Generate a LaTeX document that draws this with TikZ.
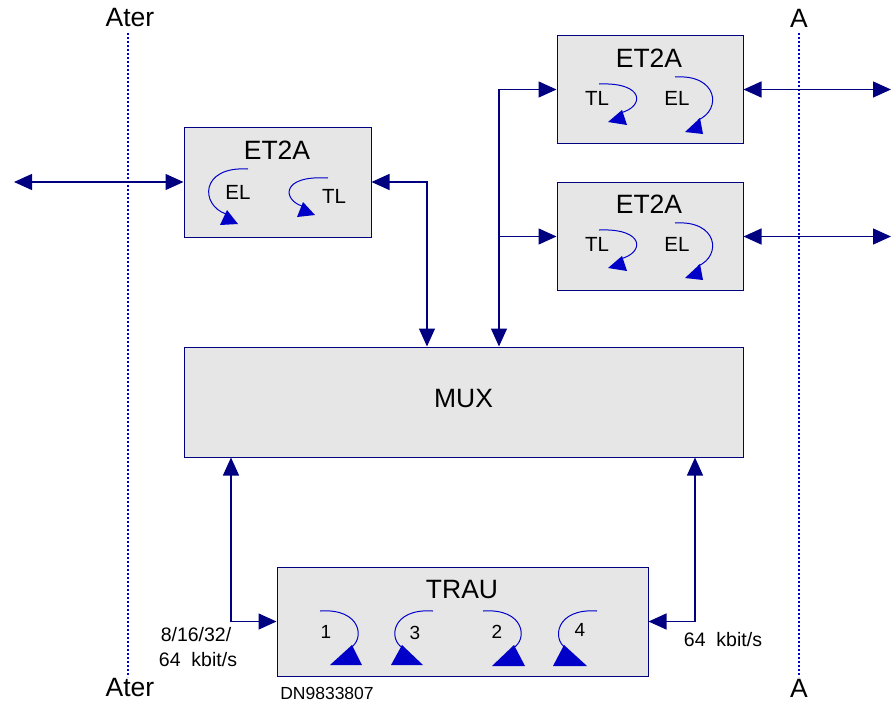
\documentclass[tikz,border=0pt]{standalone}
\usepackage{fontspec}
\setmainfont{Liberation Sans}
\usetikzlibrary{arrows.meta}
\definecolor{linkblue}{RGB}{0,0,128}
\definecolor{loopblue}{RGB}{0,0,200}
\definecolor{boxgray}{RGB}{230,230,230}
\begin{document}
\begin{tikzpicture}[x=1pt,y=-1pt,
  unitbox/.style={draw=linkblue, fill=boxgray, line width=1pt, inner sep=0pt},
  title/.style={font=\fontsize{26.5}{30}\selectfont, inner sep=0pt},
  small/.style={font=\fontsize{20.5}{24}\selectfont, inner sep=0pt},
  digit/.style={font=\fontsize{19}{22}\selectfont, inner sep=0pt},
  note/.style={font=\fontsize{19.5}{22}\selectfont, inner sep=0pt},
  refline/.style={draw=loopblue, line width=1.1pt, dash pattern=on 2pt off 2pt},
  link/.style={draw=linkblue, line width=1.3pt},
  oneway/.style={link, -{Triangle[length=18pt, width=16pt]}},
  twoway/.style={link, {Triangle[length=18pt, width=16pt]}-{Triangle[length=18pt, width=16pt]}},
  loop/.style={draw=loopblue, line width=1pt},
  loophead/.style={fill=loopblue, draw=none}
]
\useasboundingbox (0,0) rectangle (891,705);

% interface reference lines
\node[title] (aterTop) at (130,18) {Ater};
\node[title] (aterBot) at (130,688) {Ater};
\node[title] (aTop) at (799,18) {A};
\node[title] (aBot) at (799,688) {A};
\coordinate (aterLineTop) at (128,33);
\coordinate (aterLineBot) at (128,677);
\coordinate (aLineTop) at (799,33);
\coordinate (aLineBot) at (799,677);
\draw[refline] (aterLineTop) -- (aterLineBot);
\draw[refline] (aLineTop) -- (aLineBot);

% functional units
\node[unitbox, minimum width=187pt, minimum height=110pt] (etL) at (277.5,182) {};
\node[unitbox, minimum width=186pt, minimum height=108pt] (etTR) at (650,89.5) {};
\node[unitbox, minimum width=186pt, minimum height=108pt] (etBR) at (650,236.5) {};
\node[unitbox, minimum width=559pt, minimum height=110pt] (mux) at (463.5,402) {};
\node[unitbox, minimum width=371pt, minimum height=109pt] (trau) at (462.5,621.5) {};

\node[title] (etLname) at (277,150) {ET2A};
\node[title] (etTRname) at (649,58) {ET2A};
\node[title] (etBRname) at (649,204) {ET2A};
\node[title] (muxname) at (463.5,399) {MUX};
\node[title] (trauname) at (462,590) {TRAU};

% loops in the left ET2A
\node[small] (etLel) at (238,192) {EL};
\node[small] (etLtl) at (334,196) {TL};
\draw[loop] (248,169) .. controls (200,166) and (200,205) .. (226,214);
\fill[loophead] (227,210) -- (220,225) -- (238,224) -- cycle;
\draw[loop] (328,178) .. controls (280,175) and (283,200) .. (302,206);
\fill[loophead] (303,202) -- (297,217) -- (315,215) -- cycle;

% loops in the upper right ET2A
\node[small] (etTRtl) at (597,98) {TL};
\node[small] (etTRel) at (677,98) {EL};
\draw[loop] (599,84) .. controls (645,82) and (645,107) .. (620,113);
\fill[loophead] (622,110) -- (608,122) -- (627,125) -- cycle;
\draw[loop] (675,77) .. controls (718,74) and (722,110) .. (698,120);
\fill[loophead] (700,118) -- (685,132) -- (703,134) -- cycle;

% loops in the lower right ET2A
\node[small] (etBRtl) at (597,244) {TL};
\node[small] (etBRel) at (677,244) {EL};
\draw[loop] (599,230) .. controls (645,228) and (645,253) .. (620,259);
\fill[loophead] (622,256) -- (608,268) -- (627,271) -- cycle;
\draw[loop] (675,223) .. controls (718,220) and (722,256) .. (698,266);
\fill[loophead] (700,264) -- (685,278) -- (703,280) -- cycle;

% loops in the TRAU
\node[digit] (tr1) at (326,632) {1};
\node[digit] (tr3) at (415,633) {3};
\node[digit] (tr2) at (497,632) {2};
\node[digit] (tr4) at (580,630) {4};
\draw[loop] (320,611) .. controls (362,608) and (365,640) .. (350,648);
\fill[loophead] (352,645) -- (330,665) -- (362,665) -- cycle;
\draw[loop] (433,611) .. controls (391,608) and (388,640) .. (403,648);
\fill[loophead] (402,645) -- (391,665) -- (423,665) -- cycle;
\draw[loop] (483,611) .. controls (525,608) and (528,640) .. (513,648);
\fill[loophead] (514,645) -- (492,666) -- (525,666) -- cycle;
\draw[loop] (597,611) .. controls (555,608) and (552,640) .. (566,648);
\fill[loophead] (564,645) -- (553,666) -- (587,666) -- cycle;

% connections
\coordinate (westEnd) at (14,182);
\coordinate (eastEdge) at (891,0);
\draw[twoway] (westEnd) -- (etL.west);
\draw[twoway] (etL.east) -| ([xshift=-36.5pt]mux.north);
\draw[twoway] ([xshift=35.5pt]mux.north) |- (etTR.west);
\draw[oneway] ([xshift=35.5pt]mux.north |- etBR.west) -- (etBR.west);
\draw[twoway] (etTR.east) -- (etTR.east -| eastEdge);
\draw[twoway] (etBR.east) -- (etBR.east -| eastEdge);
\draw[twoway] ([xshift=-232.5pt]mux.south) |- (trau.west);
\draw[twoway] ([xshift=231.5pt]mux.south) |- (trau.east);

% rates and drawing number
\node[note] (rateA) at (196,635) {8/16/32/};
\node[note] (rateB) at (198,660) {64\ \ kbit/s};
\node[note] (rateC) at (723,640) {64\ \ kbit/s};
\node[font=\fontsize{17.5}{20}\selectfont, inner sep=0pt] (docno) at (327,693) {DN9833807};
\end{tikzpicture}
\end{document}
